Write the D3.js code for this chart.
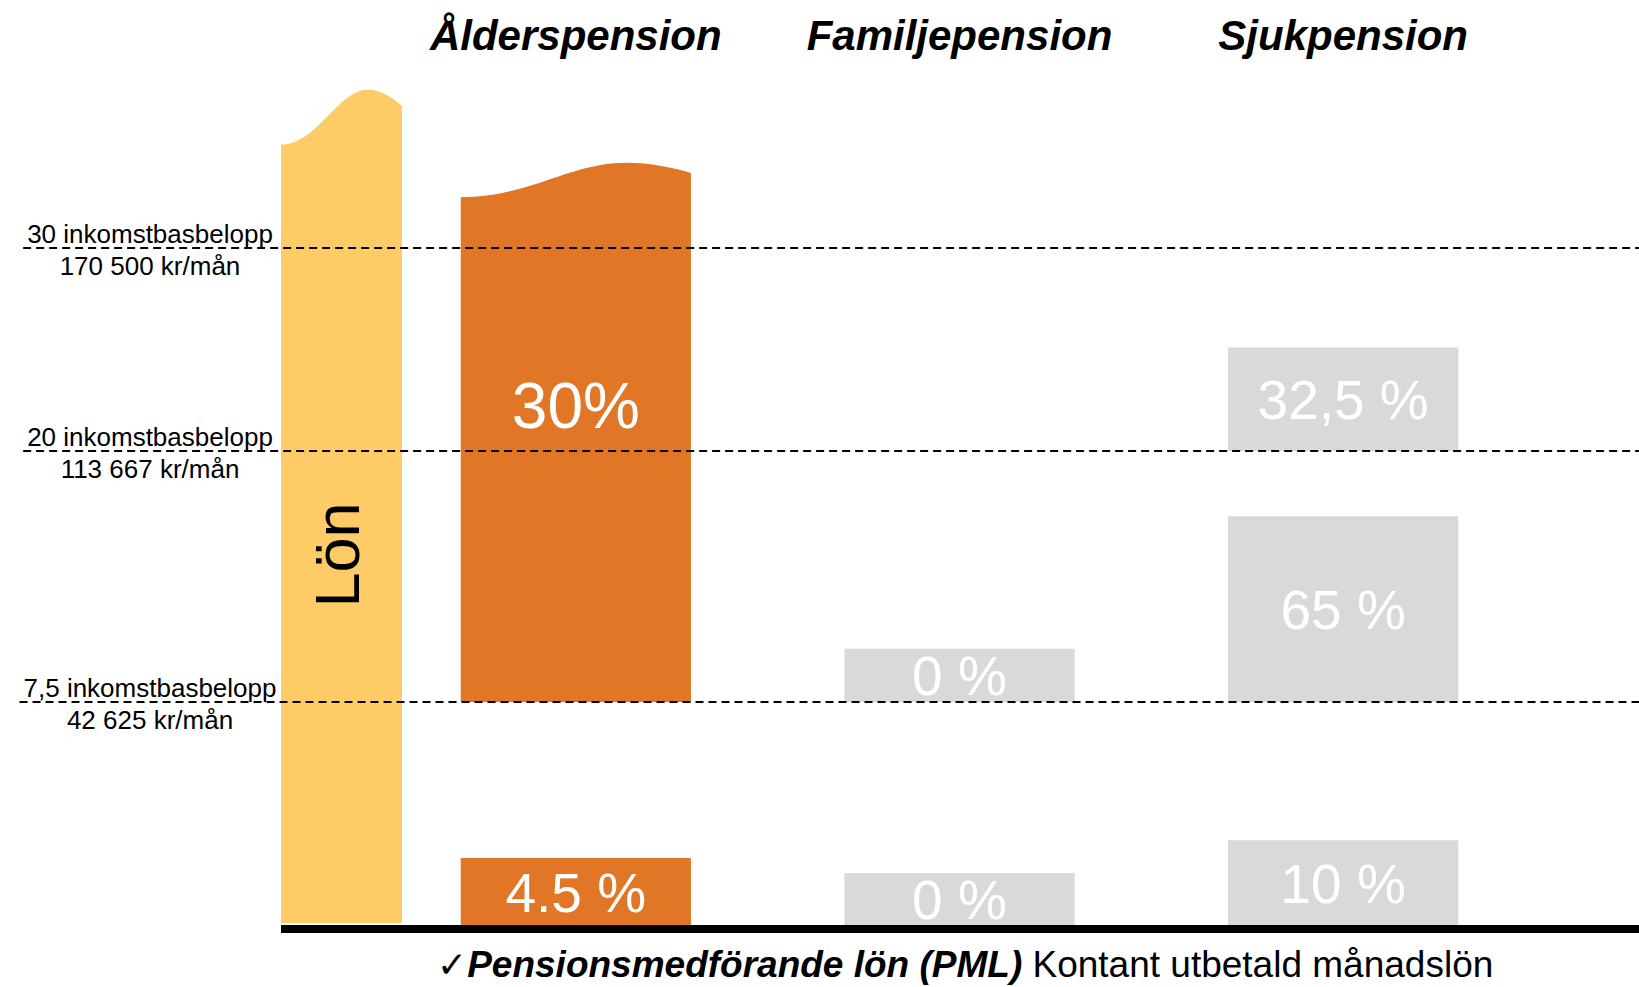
<!DOCTYPE html>
<html>
<head>
<meta charset="utf-8">
<script src="https://cdn.jsdelivr.net/npm/d3@7"></script>
<style>
  body { margin: 0; background: #fff; }
  svg { display: block; font-family: "Liberation Sans", Arial, sans-serif; }
</style>
</head>
<body>
<div id="chart"></div>
<script>
// columns
var pensionTypes = ["Ålderspension", "Familjepension", "Sjukpension"];

// income thresholds (inkomstbasbelopp) and their labels
var levels = [30, 20, 7.5];
var levelNames = ["30 inkomstbasbelopp", "20 inkomstbasbelopp", "7,5 inkomstbasbelopp"];
var levelAmounts = ["170 500 kr/mån", "113 667 kr/mån", "42 625 kr/mån"];

// premium boxes, in inkomstbasbelopp (null top = open ended, wavy)
var segType = ["Ålderspension", "Ålderspension", "Familjepension", "Familjepension", "Sjukpension", "Sjukpension", "Sjukpension"];
var segFrom = [0, 7.5, 0, 7.5, 0, 7.5, 20];
var segTo = [2.25, null, 1.75, 10.15, 2.85, 16.75, 25.1];
var segLabel = ["4.5 %", "30%", "0 %", "0 %", "10 %", "65 %", "32,5 %"];
var segLabelAt = [null, 22.2, null, null, null, null, null];

// wavy tops: left edge, crest, right edge
var lonTop = [35.1, 37.8, 37.0];
var alderTop = [32.5, 34.2, 33.7];

var colors = { lon: "#FECB67", alder: "#E07626", other: "#D9D9D9" };

var width = 1639, height = 987;

var svg = d3.select("#chart").append("svg")
    .attr("width", width)
    .attr("height", height);

// piecewise scale, the lowest band is drawn taller than the rest
var y = d3.scaleLinear()
  .domain([0].concat(levels.slice().reverse()))
  .range([925, 702, 451, 248]);

var x = d3.scaleBand()
  .domain(pensionTypes)
  .range([384, 1535]);

var lonX = d3.scaleBand()
  .domain(["Lön"])
  .range([281, 402]);

var barW = x.bandwidth() * 0.6;
function barLeft(t) { return x(t) + (x.bandwidth() - barW) / 2; }

function wavePath(x0, x1, top, bottom) {
  var w = x1 - x0, xc = x0 + w * 0.72;
  var yl = y(top[0]), yc = y(top[1]), yr = y(top[2]);
  var p = d3.path();
  p.moveTo(x0, bottom);
  p.lineTo(x0, yl);
  p.bezierCurveTo(x0 + w * 0.3, yl, xc - w * 0.25, yc, xc, yc);
  p.bezierCurveTo(xc + w * 0.1, yc, x1 - w * 0.07, yr - (yr - yc) * 0.5, x1, yr);
  p.lineTo(x1, bottom);
  p.closePath();
  return p.toString();
}

// salary column
svg.append("path")
  .attr("fill", colors.lon)
  .attr("d", wavePath(lonX("Lön"), lonX("Lön") + lonX.bandwidth(), lonTop, y(0) - 2));

svg.append("text")
  .attr("transform", "translate(" + (lonX("Lön") + lonX.bandwidth() / 2 + 17) + "," + 555 + ") rotate(-90)")
  .attr("text-anchor", "middle")
  .attr("font-size", 63)
  .attr("fill", "#000")
  .text("Lön");

// premium boxes
var segs = segType.map(function(t, i) {
  return { type: t, from: segFrom[i], to: segTo[i], label: segLabel[i], labelAt: segLabelAt[i] };
});

svg.selectAll(".seg")
  .data(segs)
  .enter().append("path")
  .attr("class", "seg")
  .attr("fill", function(d) { return d.type == "Ålderspension" ? colors.alder : colors.other; })
  .attr("d", function(d) {
    var x0 = barLeft(d.type), x1 = x0 + barW;
    if (d.to == null) return wavePath(x0, x1, alderTop, y(d.from));
    return "M" + x0 + "," + y(d.from) + "H" + x1 + "V" + y(d.to) + "H" + x0 + "Z";
  });

svg.selectAll(".seglabel")
  .data(segs)
  .enter().append("text")
  .attr("class", "seglabel")
  .attr("text-anchor", "middle")
  .attr("fill", "#fff")
  .attr("font-size", function(d) { return d.to == null ? 64 : 55; })
  .attr("x", function(d) { return barLeft(d.type) + barW / 2; })
  .attr("y", function(d) {
    var mid = d.labelAt != null ? y(d.labelAt) : (y(d.from) + y(d.to)) / 2;
    return mid + (d.to == null ? 22 : 20);
  })
  .text(function(d) { return d.label; });

// threshold labels + dashed lines
var lv = svg.selectAll(".level")
  .data(levels)
  .enter().append("g")
  .attr("class", "level");

lv.append("text")
  .attr("class", "lname")
  .attr("x", 150)
  .attr("y", function(d) { return y(d) - 5; })
  .attr("text-anchor", "middle")
  .attr("font-size", 26)
  .text(function(d, i) { return levelNames[i]; });

lv.append("text")
  .attr("x", 150)
  .attr("y", function(d) { return y(d) + 27; })
  .attr("text-anchor", "middle")
  .attr("font-size", 26)
  .text(function(d, i) { return levelAmounts[i]; });

lv.each(function(d) {
  var g = d3.select(this);
  var bb = g.select(".lname").node().getBBox();
  g.append("line")
    .attr("x1", bb.x - 4)
    .attr("x2", width)
    .attr("y1", y(d))
    .attr("y2", y(d))
    .attr("stroke", "#000")
    .attr("stroke-width", 2)
    .attr("stroke-dasharray", "8,5");
});

// base line
svg.append("rect")
  .attr("x", lonX("Lön"))
  .attr("y", y(0))
  .attr("width", width - lonX("Lön"))
  .attr("height", 8)
  .attr("fill", "#000");

// column titles
svg.selectAll(".title")
  .data(pensionTypes)
  .enter().append("text")
  .attr("class", "title")
  .attr("x", function(d) { return x(d) + x.bandwidth() / 2; })
  .attr("y", 50)
  .attr("text-anchor", "middle")
  .attr("font-size", 42)
  .attr("font-weight", "bold")
  .attr("font-style", "italic")
  .text(function(d) { return d; });

// footnote
var note = svg.append("text")
  .attr("x", 437)
  .attr("y", 977)
  .attr("font-size", 37);
note.append("tspan").attr("font-family", "DejaVu Sans").attr("font-size", 36).text("✓");
note.append("tspan").attr("font-weight", "bold").attr("font-style", "italic").text("Pensionsmedförande lön (PML)");
note.append("tspan").text(" Kontant utbetald månadslön");
</script>
</body>
</html>
